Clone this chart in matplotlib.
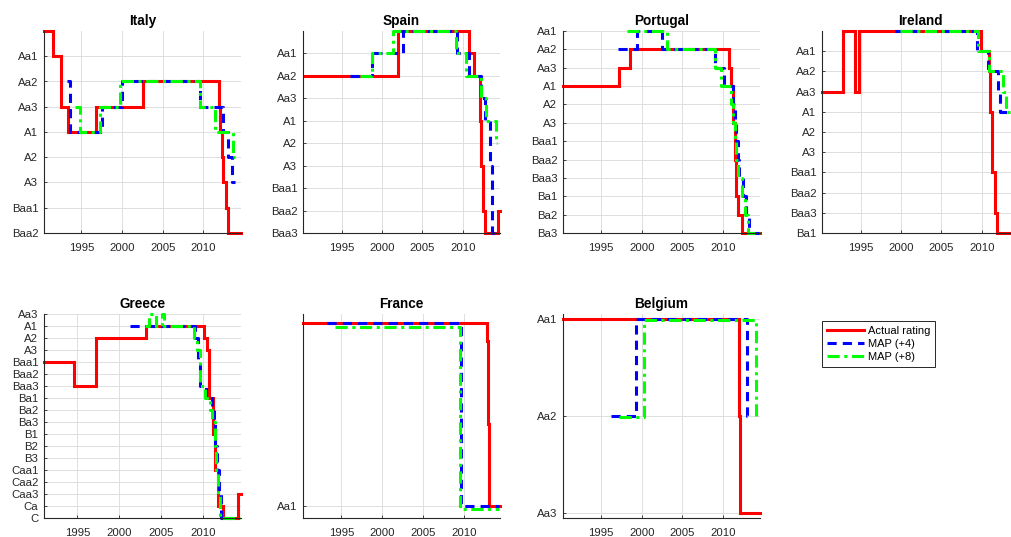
"""Sovereign ratings: actual Moody's rating vs MAP forecasts (+4, +8), seven countries."""
import matplotlib
matplotlib.use("Agg")
import matplotlib.pyplot as plt
from matplotlib.lines import Line2D

plt.rcParams["font.family"] = ["Liberation Sans", "DejaVu Sans"]

# rating scale, level 1 = Aaa ... 21 = C
RATINGS = ["Aaa", "Aa1", "Aa2", "Aa3", "A1", "A2", "A3", "Baa1", "Baa2", "Baa3",
           "Ba1", "Ba2", "Ba3", "B1", "B2", "B3", "Caa1", "Caa2", "Caa3", "Ca", "C"]

# ---- Italy
it_act_t = [1990.4, 1991.5, 1992.55, 1993.4, 1996.8, 2002.6, 2012.0, 2012.1, 2012.25, 2012.45, 2012.8, 2013.0, 2014.65]
it_act_r = [1, 2, 4, 5, 4, 3, 4, 5, 6, 7, 8, 9, 9]
it_m4_t = [1993.2, 1993.6, 1997.5, 2000.0, 2009.55, 2012.45, 2013.1, 2013.6, 2013.9]
it_m4_r = [3, 5, 4, 3, 4, 5, 6, 7, 7]
it_m8_t = [1994.2, 1994.8, 1997.3, 1999.8, 2009.55, 2011.4, 2013.7, 2013.9]
it_m8_r = [4, 5, 4, 3, 4, 5, 6, 6]

# ---- Spain
sp_act_t = [1990.3, 2002.0, 2010.8, 2011.4, 2012.1, 2012.3, 2012.5, 2012.7, 2014.4, 2014.6]
sp_act_r = [3, 1, 2, 3, 5, 7, 9, 10, 9, 9]
sp_m4_t = [1996.0, 1998.8, 2002.6, 2009.3, 2010.8, 2012.3, 2012.8, 2013.3, 2013.6, 2014.0]
sp_m4_r = [3, 2, 1, 2, 3, 4, 5, 7, 10, 10]
sp_m8_t = [1997.2, 1998.8, 2001.3, 2009.2, 2010.4, 2012.2, 2012.9, 2014.1, 2014.25]
sp_m8_r = [3, 2, 1, 2, 3, 4, 5, 6, 6]

# ---- Portugal
pt_act_t = [1990.3, 1997.2, 1998.6, 2010.8, 2011.05, 2011.3, 2011.5, 2011.7, 2011.85, 2012.4, 2014.6]
pt_act_r = [5, 4, 3, 4, 5, 7, 9, 11, 12, 13, 13]
pt_m4_t = [1997.1, 1999.4, 2002.5, 2009.0, 2010.1, 2011.3, 2011.5, 2011.7, 2011.85, 2012.0, 2012.45, 2012.85, 2013.2, 2014.6]
pt_m4_r = [3, 2, 3, 4, 5, 6, 7, 8, 9, 10, 11, 12, 13, 13]
pt_m8_t = [1998.15, 2003.1, 2009.0, 2009.85, 2011.0, 2011.3, 2011.5, 2011.7, 2011.85, 2012.35, 2012.75, 2013.15, 2014.6]
pt_m8_r = [2, 3, 4, 5, 6, 7, 8, 9, 10, 11, 12, 13, 13]

# ---- Ireland
ie_act_t = [1990.2, 1992.8, 1994.25, 1994.8, 2009.85, 2010.9, 2011.0, 2011.3, 2011.6, 2011.9, 2014.7]
ie_act_r = [4, 1, 4, 1, 2, 3, 5, 8, 10, 11, 11]
ie_m4_t = [1999.3, 2009.4, 2010.75, 2012.0, 2012.2, 2014.7]
ie_m4_r = [1, 2, 3, 4, 5, 5]
ie_m8_t = [1999.9, 2009.5, 2010.85, 2012.65, 2013.0, 2014.7]
ie_m8_r = [1, 2, 3, 4, 5, 5]

# ---- Greece
gr_act_t = [1991.0, 1994.55, 1997.2, 2003.2, 2010.15, 2010.5, 2010.75, 2011.25, 2011.5, 2011.75, 2012.4, 2014.2, 2014.55]
gr_act_r = [8, 10, 6, 5, 6, 7, 11, 14, 17, 20, 21, 19, 19]
gr_m4_t = [2001.3, 2009.1, 2009.4, 2009.65, 2010.4, 2011.1, 2011.3, 2011.5, 2011.7, 2011.9, 2012.1, 2013.5]
gr_m4_r = [5, 6, 8, 10, 11, 12, 13, 15, 17, 19, 21, 21]
gr_m8_t = [2003.1, 2003.6, 2004.4, 2005.1, 2005.3, 2008.95, 2009.3, 2009.7, 2010.2, 2010.85, 2011.1, 2011.4, 2011.6, 2011.8, 2012.0, 2014.4]
gr_m8_r = [5, 4, 5, 4, 5, 6, 7, 10, 11, 12, 13, 15, 17, 19, 21, 21]

# ---- France
fr_act_t = [1990.3, 2012.85, 2012.95, 2013.05, 2014.45]
fr_act_r = [1, 1.1, 1.55, 2, 2]
fr_m4_t = [1993.2, 2009.7, 2014.3]
fr_m4_r = [1, 2, 2]
fr_m8_t = [1994.2, 2009.5, 2014.3]
fr_m8_r = [1.02, 2.02, 2.02]

# ---- Belgium
be_act_t = [1990.3, 2011.95, 2012.1, 2014.55]
be_act_r = [2, 3, 4, 4]
be_m4_t = [1996.2, 1999.3, 2012.9, 2013.3]
be_m4_r = [3, 2, 3, 3]
be_m8_t = [1997.25, 2000.3, 2014.1, 2014.3]
be_m8_r = [3.015, 2.015, 3.015, 3.015]

YEARS = [1995, 2000, 2005, 2010]

W, H = 1012, 537
DARK = "#262626"
GRID = "#dedede"

# name, series, pixel box (left, top, right, bottom), xlim, ylim (bottom, top), y tick levels
panels = [
    ("Italy", (it_act_t, it_act_r, it_m4_t, it_m4_r, it_m8_t, it_m8_r),
     (44, 31, 241, 233), (1990.4, 2014.65), (9, 1), range(2, 10)),
    ("Spain", (sp_act_t, sp_act_r, sp_m4_t, sp_m4_r, sp_m8_t, sp_m8_r),
     (303, 31, 500, 233), (1990.2, 2014.6), (10, 1), range(2, 11)),
    ("Portugal", (pt_act_t, pt_act_r, pt_m4_t, pt_m4_r, pt_m8_t, pt_m8_r),
     (563, 31, 760, 233), (1990.3, 2014.6), (13, 2), range(2, 14)),
    ("Ireland", (ie_act_t, ie_act_r, ie_m4_t, ie_m4_r, ie_m8_t, ie_m8_r),
     (822, 31, 1019, 233), (1990.2, 2014.6), (11, 1), range(2, 12)),
    ("Greece", (gr_act_t, gr_act_r, gr_m4_t, gr_m4_r, gr_m8_t, gr_m8_r),
     (44, 314, 241, 518), (1991.0, 2014.55), (21, 4), range(4, 22)),
    ("France", (fr_act_t, fr_act_r, fr_m4_t, fr_m4_r, fr_m8_t, fr_m8_r),
     (303, 314, 500, 518), (1990.3, 2014.45), (2.067, 0.95), [2]),
    ("Belgium", (be_act_t, be_act_r, be_m4_t, be_m4_r, be_m8_t, be_m8_r),
     (563, 314, 760, 518), (1990.3, 2014.55), (4.05, 1.95), [2, 3, 4]),
]

STYLES = [
    dict(color="red", lw=2.2, ls="-"),
    dict(color="blue", lw=2.2, ls=(0, (3, 2))),
    dict(color="#00ff00", lw=2.2, ls=(0, (4, 1.5, 1, 1.5))),
]

fig = plt.figure(figsize=(W / 100, H / 100), dpi=100)

for name, series, (l, t, r, b), xlim, ylim, yt in panels:
    ax = fig.add_axes([l / W, 1 - b / H, (r - l) / W, (b - t) / H])
    for k, st in enumerate(STYLES):
        ax.plot(series[2 * k], series[2 * k + 1], drawstyle="steps-post",
                clip_on=False, solid_joinstyle="miter", **st)
    ax.set_xlim(*xlim)
    ax.set_ylim(*ylim)
    ax.set_xticks(YEARS)
    ax.set_yticks(list(yt))
    ax.set_yticklabels([RATINGS[int(v) - 1] for v in yt])
    ax.grid(True, color=GRID, lw=0.7)
    ax.set_axisbelow(True)
    for s in ("top", "right"):
        ax.spines[s].set_visible(False)
    for s in ("left", "bottom"):
        ax.spines[s].set_color(DARK)
        ax.spines[s].set_linewidth(0.8)
    ax.tick_params(direction="in", length=2.5, width=0.6, colors=DARK, labelsize=8.2)
    ax.tick_params(axis="x", pad=7.5)
    ax.tick_params(axis="y", pad=4)
    ax.set_title(name, fontsize=9.8, fontweight="bold", color="black", pad=4)

handles = [Line2D([], [], **st) for st in STYLES]
leg = fig.legend(handles, ["Actual rating", "MAP (+4)", "MAP (+8)"],
                 loc="upper left", bbox_to_anchor=(822 / W, 1 - 321 / H),
                 borderaxespad=0, fancybox=False, framealpha=1, edgecolor=DARK,
                 fontsize=8, handlelength=3.3, labelspacing=0.28,
                 borderpad=0.45, handletextpad=0.4)
leg.get_frame().set_linewidth(0.7)

fig.savefig("out.png", dpi=100)
